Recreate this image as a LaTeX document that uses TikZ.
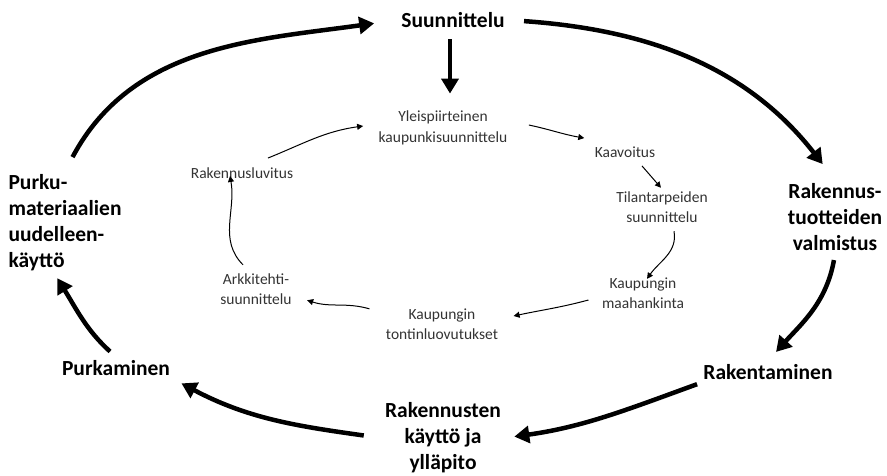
\documentclass[tikz,border=0pt]{standalone}
\usepackage{fontspec}
\setmainfont{Carlito}
\usetikzlibrary{arrows.meta}

\begin{document}
\begin{tikzpicture}[x=1pt, y=1pt,
    biglabel/.style={font=\fontsize{21.5}{26}\selectfont\bfseries, align=center},
    smalllabel/.style={font=\fontsize{15.5}{20.5}\selectfont, align=center, text=black!80},
    bigarrow/.style={line width=4.5pt, -{Triangle[length=15pt,width=17pt]}},
    smallarrow/.style={line width=1pt, -{Triangle[length=6pt,width=6pt]}}]
    \useasboundingbox (0,0) rectangle (887,475);

    % Outer cycle
    \node[biglabel] (plan) at (453,455) {Suunnittelu};
    \node[biglabel] (tuote) at (835,258) {Rakennus-\\tuotteiden\\valmistus};
    \node[biglabel] (raken) at (768,103) {Rakentaminen};
    \node[biglabel] (kaytto) at (443,37) {Rakennusten\\käyttö ja\\ylläpito};
    \node[biglabel] (purkam) at (116,107) {Purkaminen};
    \node[biglabel, align=left, anchor=west] (purku) at (5,252) {Purku-\\materiaalien\\uudelleen-\\käyttö};

    % Inner cycle
    \node[smalllabel] (yleis) at (443,347) {Yleispiirteinen\\kaupunkisuunnittelu};
    \node[smalllabel] (kaav) at (625,323) {Kaavoitus};
    \node[smalllabel] (tila) at (662,268) {Tilantarpeiden\\suunnittelu};
    \node[smalllabel] (maah) at (643,182) {Kaupungin\\maahankinta};
    \node[smalllabel] (tont) at (442,151) {Kaupungin\\tontinluovutukset};
    \node[smalllabel] (arkk) at (256,186) {Arkkitehti-\\suunnittelu};
    \node[smalllabel] (lupa) at (242,302) {Rakennusluvitus};

    % Draw outer arrows
    \draw[bigarrow, shorten <=16pt, shorten >=24pt] (purku.north) to[out=62, in=188] (plan.west);
    \draw[bigarrow, shorten <=16pt, shorten >=20pt] (plan.east) to[out=-4, in=128] (tuote.north);
    \draw[bigarrow, shorten <=6pt, shorten >=12pt] (tuote.south) to[out=-100, in=48] (raken.north);
    \draw[bigarrow, shorten <=3pt, shorten >=10pt] (raken.south west) to[out=200, in=8] (kaytto.east);
    \draw[bigarrow, shorten <=18pt, shorten >=9pt] (kaytto.west) to[out=172, in=-28] (purkam.south east);
    \draw[bigarrow, shorten <=8pt, shorten >=4pt] (purkam.north) to[out=138, in=-58] ([xshift=-10pt]purku.south);
    \draw[bigarrow, shorten <=8pt, shorten >=14pt] ([xshift=-3pt]plan.south) -- ([xshift=7pt]yleis.north);

    % Draw inner arrows
    \draw[smallarrow] ([xshift=18pt,yshift=3pt]yleis.east) to[out=-12, in=170] ([xshift=-7pt,yshift=5pt]kaav.north west);
    \draw[smallarrow] ([xshift=17pt,yshift=-5pt]kaav.south) -- ([xshift=-1pt]tila.north);
    \draw[smallarrow] ([xshift=12pt,yshift=-5pt]tila.south) to[out=-80, in=55] ([xshift=4pt,yshift=-5pt]maah.north);
    \draw[smallarrow] ([xshift=-10pt,yshift=-7pt]maah.west) to[out=195, in=12] ([xshift=12pt,yshift=8pt]tont.east);
    \draw[smallarrow] ([xshift=-13pt,yshift=-4pt]tont.north west) to[out=164, in=-18] ([xshift=12pt,yshift=8pt]arkk.south east);
    \draw[smallarrow] ([xshift=-13pt,yshift=5pt]arkk.north) to[out=135, in=-80] ([xshift=-12pt,yshift=6pt]lupa.south);
    \draw[smallarrow] ([xshift=26pt,yshift=6pt]lupa.north) to[out=22, in=188] ([xshift=-12pt,yshift=2pt]yleis.west);
\end{tikzpicture}
\end{document}
